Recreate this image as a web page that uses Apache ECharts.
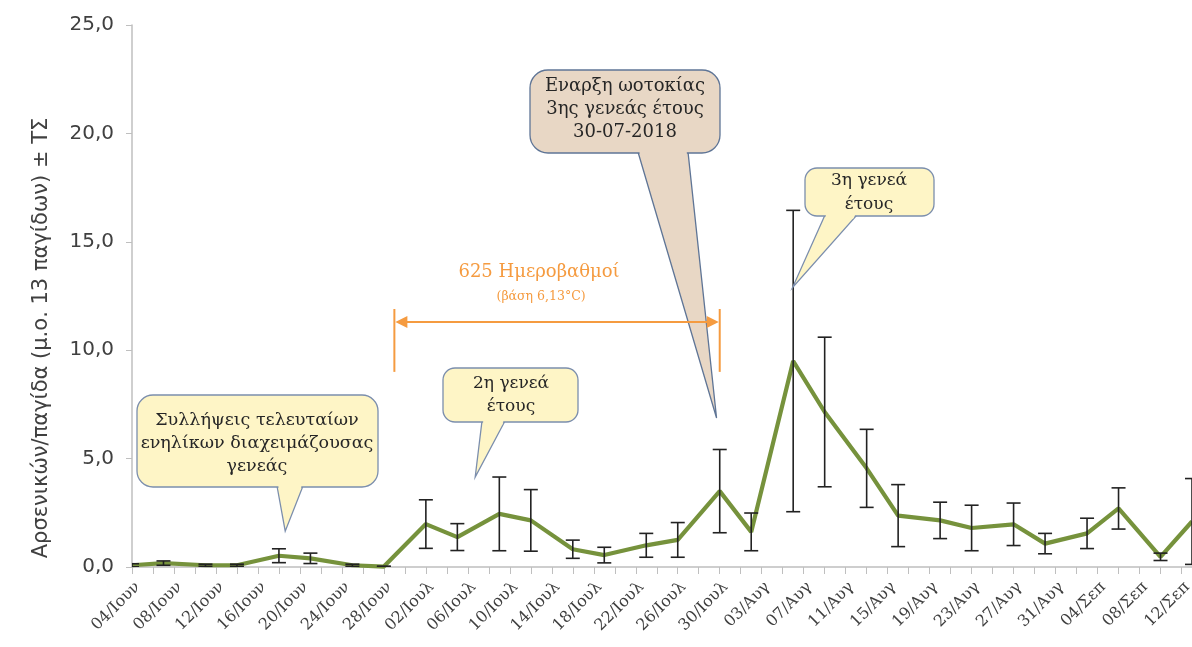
<!DOCTYPE html>
<html>
<head>
<meta charset="utf-8">
<script src="https://cdn.jsdelivr.net/npm/echarts/dist/echarts.min.js"></script>
<style>
html,body{margin:0;padding:0;background:#ffffff;}
#c{width:1192px;height:647px;}
</style>
</head>
<body>
<div id="c"></div>
<script>
// ---------------- DATA ----------------
const axisStart = '2018-06-04';
const axisEnd = '2018-09-13';
const sampleDates = [
  '2018-06-04','2018-06-07','2018-06-11','2018-06-14','2018-06-18','2018-06-21','2018-06-25','2018-06-28',
  '2018-07-02','2018-07-05','2018-07-09','2018-07-12','2018-07-16','2018-07-19','2018-07-23','2018-07-26',
  '2018-07-30','2018-08-02','2018-08-06','2018-08-09','2018-08-13','2018-08-16','2018-08-20','2018-08-23',
  '2018-08-27','2018-08-30','2018-09-03','2018-09-06','2018-09-10','2018-09-13'
];
const meanValues = [
  0.08, 0.18, 0.08, 0.08, 0.52, 0.40, 0.08, 0.02,
  1.98, 1.38, 2.45, 2.15, 0.82, 0.55, 1.00, 1.25,
  3.50, 1.62, 9.50, 7.15, 4.55, 2.37, 2.15, 1.80,
  1.97, 1.08, 1.55, 2.70, 0.47, 2.10
];
const seValues = [
  0.07, 0.10, 0.05, 0.05, 0.32, 0.24, 0.05, 0.02,
  1.12, 0.62, 1.70, 1.42, 0.42, 0.36, 0.55, 0.80,
  1.92, 0.87, 6.95, 3.45, 1.80, 1.43, 0.84, 1.05,
  0.98, 0.47, 0.70, 0.95, 0.17, 1.98
];
const tickLabels = [
  '04/Ιουν','08/Ιουν','12/Ιουν','16/Ιουν','20/Ιουν','24/Ιουν','28/Ιουν',
  '02/Ιουλ','06/Ιουλ','10/Ιουλ','14/Ιουλ','18/Ιουλ','22/Ιουλ','26/Ιουλ','30/Ιουλ',
  '03/Αυγ','07/Αυγ','11/Αυγ','15/Αυγ','19/Αυγ','23/Αυγ','27/Αυγ','31/Αυγ',
  '04/Σεπ','08/Σεπ','12/Σεπ'
];
const yAxisTitle = 'Αρσενικών/παγίδα (μ.ο. 13 παγίδων) ± ΤΣ';
const degreeDayStart = '2018-06-29';
const degreeDayEnd = '2018-07-30';
const degreeDayTitle = '625 Ημεροβαθμοί';
const degreeDaySub = '(βάση 6,13°C)';
const callout1Text = ['Συλλήψεις τελευταίων', 'ενηλίκων διαχειμάζουσας', 'γενεάς'];
const callout2Text = ['2η γενεά', 'έτους'];
const callout3Text = ['Εναρξη ωοτοκίας', '3ης γενεάς έτους', '30-07-2018'];
const callout4Text = ['3η γενεά', 'έτους'];

// ---------------- HELPERS ----------------
function dayIndex(s) {
  return (Date.parse(s + 'T00:00:00Z') - Date.parse(axisStart + 'T00:00:00Z')) / 86400000;
}
const xMax = dayIndex(axisEnd);
const lineData = sampleDates.map((d, i) => [dayIndex(d), meanValues[i]]);
const errData = sampleDates.map((d, i) => [dayIndex(d), Math.max(0, meanValues[i] - seValues[i]), meanValues[i] + seValues[i]]);

const chart = echarts.init(document.getElementById('c'), null, {renderer: 'canvas'});

const option = {
  animation: false,
  backgroundColor: '#ffffff',
  grid: {left: 132, right: 0, top: 25, bottom: 80, containLabel: false, outerBoundsMode: 'none'},
  xAxis: {
    type: 'value', min: 0, max: xMax, interval: 2,
    axisLine: {show: true, lineStyle: {color: '#BFBFBF', width: 1.5}},
    axisTick: {show: true, length: 7, lineStyle: {color: '#BFBFBF', width: 1}},
    splitLine: {show: false},
    axisLabel: {
      rotate: 45, margin: 12, verticalAlign: 'top', fontFamily: 'DejaVu Serif', fontSize: 16, color: '#404040',
      showMaxLabel: false, hideOverlap: false,
      formatter: function (v) {
        if (v % 4 === 0 && v / 4 < tickLabels.length) return tickLabels[v / 4];
        return '';
      }
    }
  },
  yAxis: {
    type: 'value', min: 0, max: 25, interval: 5,
    axisLine: {show: true, lineStyle: {color: '#BFBFBF', width: 1.5}},
    axisTick: {show: true, length: 6, lineStyle: {color: '#BFBFBF'}},
    splitLine: {show: false},
    axisLabel: {
      fontFamily: 'DejaVu Sans', fontSize: 20, color: '#404040', margin: 18,
      formatter: function (v) { return v.toFixed(1).replace('.', ','); }
    }
  },
  series: [
    {
      type: 'line', data: lineData, symbol: 'none', z: 2,
      lineStyle: {color: '#76923C', width: 4.2}
    },
    {
      type: 'custom', data: errData, z: 3, clip: true,
      encode: {x: 0, y: [1, 2]},
      renderItem: function (params, api) {
        const x = api.value(0), lo = api.value(1), hi = api.value(2);
        const pLo = api.coord([x, lo]), pHi = api.coord([x, hi]);
        const cap = 7;
        const st = {stroke: '#222222', lineWidth: 1.6};
        return {
          type: 'group', children: [
            {type: 'line', shape: {x1: pLo[0], y1: pLo[1], x2: pHi[0], y2: pHi[1]}, style: st},
            {type: 'line', shape: {x1: pHi[0] - cap, y1: pHi[1], x2: pHi[0] + cap, y2: pHi[1]}, style: st},
            {type: 'line', shape: {x1: pLo[0] - cap, y1: pLo[1], x2: pLo[0] + cap, y2: pLo[1]}, style: st}
          ]
        };
      }
    }
  ]
};
chart.setOption(option);

// ---------------- ANNOTATIONS ----------------
const P = (d, v) => chart.convertToPixel({gridIndex: 0}, [d, v]);

function callout(box, base, tipData, fill, stroke, lines, tc, lh, fs) {
  const x = box[0], y = box[1], w = box[2], h = box[3], r = box[4];
  const by = y + h;
  const tip = P(tipData[0], tipData[1]);
  const t = 3 / (tip[1] - by);
  const l2 = base[0] + (tip[0] - base[0]) * t;
  const r2 = base[1] + (tip[0] - base[1]) * t;
  return [
    {type: 'polygon', z: 100, shape: {points: [[base[0], by - 1], [tip[0], tip[1]], [base[1], by - 1]]},
      style: {fill: fill, stroke: stroke, lineWidth: 1.3}},
    {type: 'rect', z: 101, shape: {x: x, y: y, width: w, height: h, r: r},
      style: {fill: fill, stroke: stroke, lineWidth: 1.3}},
    {type: 'polygon', z: 102, shape: {points: [[base[0] + 1.3, by - 2], [base[1] - 1.3, by - 2], [r2 - 1.3, by + 3], [l2 + 1.3, by + 3]]},
      style: {fill: fill}},
    {type: 'text', z: 103, x: tc[0], y: tc[1],
      style: {text: lines.join('\n'), fontFamily: 'DejaVu Serif', fontSize: fs, lineHeight: lh,
        fill: '#262626', align: 'center', verticalAlign: 'middle'}}
  ];
}
const yellow = '#FEF5C6';
const tan = '#E8D7C5';

const orange = '#F59B40';
const aL = P(dayIndex(degreeDayStart), 11.3), aR = P(dayIndex(degreeDayEnd), 11.3);
const vTopL = P(dayIndex(degreeDayStart), 11.9), vBotL = P(dayIndex(degreeDayStart), 9.0);
const vTopR = P(dayIndex(degreeDayEnd), 11.9), vBotR = P(dayIndex(degreeDayEnd), 9.0);
const ah = 13, aw = 6;
const midX = (aL[0] + aR[0]) / 2;

const graphics = [];
// y axis title
graphics.push({
  type: 'text', x: 42, y: 338, rotation: Math.PI / 2, z: 50,
  style: {text: yAxisTitle, fontFamily: 'DejaVu Sans', fontSize: 21, fill: '#404040', align: 'center', verticalAlign: 'middle'}
});
// callouts
graphics.push(...callout([137, 395, 241, 92, 16], [277, 303], [14.6, 1.65], yellow, '#7B8EAD', callout1Text, [257, 443], 23, 17.5));
graphics.push(...callout([443, 368, 135, 54, 12], [482, 505], [32.7, 4.15], yellow, '#7B8EAD', callout2Text, [511, 395], 23, 17));
graphics.push(...callout([530, 70, 190, 83, 18], [638, 688], [55.7, 6.87], tan, '#5F7596', callout3Text, [625, 109], 23, 18));
graphics.push(...callout([805, 168, 129, 48, 12], [825, 857], [62.95, 12.9], yellow, '#7B8EAD', callout4Text, [869, 193], 24, 17));
// degree-day arrow
graphics.push(
  {type: 'line', z: 110, shape: {x1: vTopL[0], y1: vTopL[1], x2: vBotL[0], y2: vBotL[1]}, style: {stroke: orange, lineWidth: 2}},
  {type: 'line', z: 110, shape: {x1: vTopR[0], y1: vTopR[1], x2: vBotR[0], y2: vBotR[1]}, style: {stroke: orange, lineWidth: 2}},
  {type: 'line', z: 110, shape: {x1: aL[0] + ah - 2, y1: aL[1], x2: aR[0] - ah + 2, y2: aR[1]}, style: {stroke: orange, lineWidth: 2}},
  {type: 'polygon', z: 110, shape: {points: [[aL[0] + 1, aL[1]], [aL[0] + ah, aL[1] - aw], [aL[0] + ah, aL[1] + aw]]}, style: {fill: orange}},
  {type: 'polygon', z: 110, shape: {points: [[aR[0] - 1, aR[1]], [aR[0] - ah, aR[1] - aw], [aR[0] - ah, aR[1] + aw]]}, style: {fill: orange}},
  {type: 'text', z: 110, x: midX - 18, y: 272, style: {text: degreeDayTitle, fontFamily: 'DejaVu Serif', fontSize: 18, fill: orange, align: 'center', verticalAlign: 'middle'}},
  {type: 'text', z: 110, x: midX - 16, y: 297, style: {text: degreeDaySub, fontFamily: 'DejaVu Serif', fontSize: 12.5, fill: orange, align: 'center', verticalAlign: 'middle'}}
);

chart.setOption({graphic: graphics});
</script>
</body>
</html>
